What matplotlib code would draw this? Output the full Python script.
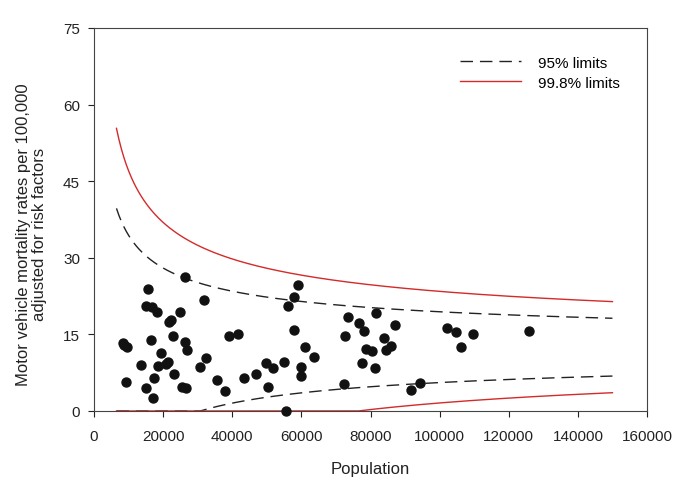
import numpy as np
import matplotlib
matplotlib.use("Agg")
import matplotlib.pyplot as plt

# --- data ---
population = [8250, 8760, 9500, 9400, 13600, 15000, 15500, 15000, 16500, 16900,
              17300, 17100, 18300, 18400, 19300, 20800, 21400, 21600, 22300, 22800,
              23200, 25000, 25600, 26400, 26400, 26600, 26800, 30700, 31900, 32400,
              35500, 37800, 39200, 41800, 43400, 47000, 49700, 50300, 51900, 55100,
              55600, 56000, 58000, 58900, 58000, 59800, 59800, 61000, 63600, 72200,
              72600, 73400, 76600, 77400, 78000, 78700, 80300, 81200, 81600, 83800,
              84600, 85800, 87200, 91600, 94300, 102200, 104600, 106300, 109600, 125900]
rates = [13.4, 12.9, 12.5, 5.7, 9.1, 20.6, 23.8, 4.55, 13.9, 20.3,
         6.5, 2.6, 19.4, 8.9, 11.3, 9.2, 9.6, 17.4, 17.8, 14.6,
         7.2, 19.4, 4.7, 26.3, 13.5, 4.55, 11.9, 8.65, 21.8, 10.4,
         6.0, 4.0, 14.7, 15.0, 6.4, 7.2, 9.4, 4.7, 8.5, 9.6,
         0.0, 20.5, 22.3, 24.7, 15.9, 8.65, 6.8, 12.6, 10.6, 5.3,
         14.6, 18.4, 17.2, 9.4, 15.7, 12.1, 11.7, 8.5, 19.1, 14.2,
         12.0, 12.8, 16.9, 4.2, 5.4, 16.3, 15.4, 12.5, 15.1, 15.6]

# funnel-limit parameters (overall rate per 100,000 and z values)
mean_rate = 12.5
z95 = 1.96
z998 = 3.09
pop_min, pop_max = 6500, 150000

xticks = [0, 20000, 40000, 60000, 80000, 100000, 120000, 140000, 160000]
yticks = [0, 15, 30, 45, 60, 75]

plt.rcParams['font.family'] = ['Liberation Sans', 'DejaVu Sans']

fig = plt.figure(figsize=(6.85, 4.85), dpi=100)
ax = fig.add_axes([94/685, 1-412/485, (647-94)/685, (412-29)/485])

n = np.linspace(pop_min, pop_max, 400)
se = np.sqrt(mean_rate * 1e5 / n)
up95 = mean_rate + z95 * se
lo95 = np.maximum(0, mean_rate - z95 * se)
up998 = mean_rate + z998 * se
lo998 = np.maximum(0, mean_rate - z998 * se)

ax.plot(n, up95, color='#222222', lw=1.0, dashes=(9, 5), label='95% limits')
ax.plot(n, lo95, color='#222222', lw=1.0, dashes=(9, 5))
ax.plot(n, up998, color='#d42a2a', lw=1.0, label='99.8% limits')
ax.plot(n, lo998, color='#d42a2a', lw=1.0)

ax.scatter(population, rates, s=42, color='#111111', zorder=3, clip_on=False)

ax.set_xlim(0, 160000)
ax.set_ylim(0, 75)
ax.set_xticks(xticks)
ax.set_yticks(yticks)
ax.tick_params(direction='out', length=4.5, width=0.8, labelsize=11, colors='#222222')
ax.tick_params(axis='x', pad=8.5)
ax.tick_params(axis='y', pad=5.5)
for sp in ax.spines.values():
    sp.set_color('#444444')
    sp.set_linewidth(0.8)

ax.set_xlabel('Population', fontsize=12, color='#222222')
ax.xaxis.label.set_va('baseline')
ax.xaxis.set_label_coords(0.5, -(474 - 412) / 383)
ax.set_ylabel('Motor vehicle mortality rates per 100,000\nadjusted for risk factors',
              fontsize=12, color='#222222', linespacing=1.05)
ax.yaxis.set_label_coords(-(94 - 47) / 553, (412 - 234.5) / 383)

leg = ax.legend(loc='upper left', frameon=False, fontsize=11, handlelength=4.0,
                handletextpad=1.1, labelspacing=0.38,
                bbox_to_anchor=((446 - 94) / 553, (412 - 43) / 383))

fig.savefig('out.png', dpi=100)
